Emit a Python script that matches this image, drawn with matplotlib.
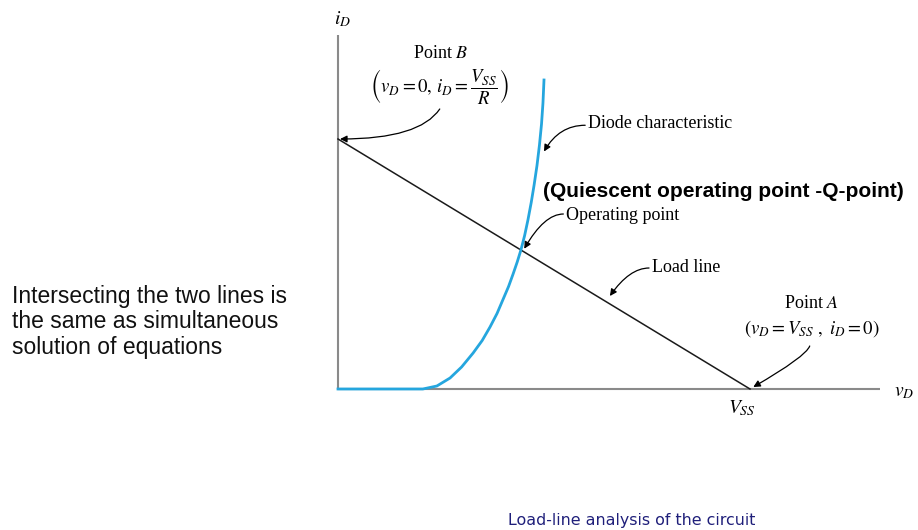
import matplotlib.pyplot as plt
import numpy as np

plt.rcParams['mathtext.fontset'] = 'stix'
plt.rcParams['font.family'] = 'Liberation Serif'

# load line end points (V_SS = 10, V_SS/R = 10)
V_SS = 10.0
I_B = 10.0
load_v = [0.0, V_SS]
load_i = [I_B, 0.0]

# diode characteristic
diode_v = [0.0, 2.06, 2.40, 2.72, 3.00, 3.28, 3.50, 3.69, 3.86, 4.00, 4.14,
           4.25, 4.35, 4.44, 4.53, 4.61, 4.69, 4.76, 4.83, 4.89, 4.94, 4.975, 5.00]
diode_i = [0.0, 0.0, 0.12, 0.44, 0.88, 1.44, 1.94, 2.48, 3.02, 3.56, 4.10,
           4.60, 5.08, 5.56, 6.14, 6.76, 7.46, 8.16, 8.94, 9.76, 10.60, 11.44, 12.36]

q_v, q_i = 4.44, 5.56

fig = plt.figure(figsize=(9.18, 5.30), dpi=100)
ax = fig.add_axes([0, 0, 1, 1])
ax.set_xlim(-8.204, 14.078)
ax.set_ylim(-5.64, 15.56)
ax.axis('off')

# axes
gray = '#8a8a8a'
ax.plot([0, 0], [0, 14.15], color=gray, lw=1.5, solid_capstyle='butt')
ax.plot([0, 13.16], [0, 0], color=gray, lw=1.5, solid_capstyle='butt')

ax.plot(load_v, load_i, color='#1a1a1a', lw=1.1)
ax.plot(diode_v, diode_i, color='#25a6de', lw=2.0, solid_joinstyle='round')

arr = dict(arrowstyle='-|>', color='black', lw=0.9, mutation_scale=10,
           shrinkA=0, shrinkB=0)

ax.text(0.1, 14.8, r'$i_D$', fontsize=14, ha='center', va='center')

ax.text(2.5, 13.4, 'Point $\\mathit{B}$', fontsize=13, ha='center', va='center')
ax.text(2.45, 12.1, r'$\left(v_D = 0,\, i_D = \dfrac{V_{SS}}{R}\right)$',
        fontsize=13.5, ha='center', va='center')
ax.annotate('', xy=(0.05, I_B), xytext=(2.47, 11.2),
            arrowprops=dict(arr, connectionstyle='angle3,angleA=56,angleB=0'))

ax.text(6.08, 10.6, 'Diode characteristic', fontsize=13, ha='left', va='center')
ax.annotate('', xy=(5.0, 9.5), xytext=(6.0, 10.55),
            arrowprops=dict(arr, connectionstyle='angle3,angleA=0,angleB=60'))

ax.text(4.98, 7.9, '(Quiescent operating point -Q-point)', fontsize=15,
        fontweight='bold', family='Liberation Sans', ha='left', va='center')

ax.text(5.54, 6.96, 'Operating point', fontsize=13, ha='left', va='center')
ax.annotate('', xy=(q_v + 0.08, q_i + 0.05), xytext=(5.47, 7.0),
            arrowprops=dict(arr, connectionstyle='angle3,angleA=0,angleB=60'))

ax.text(7.62, 4.84, 'Load line', fontsize=13, ha='left', va='center')
ax.annotate('', xy=(6.6, 3.72), xytext=(7.55, 4.84),
            arrowprops=dict(arr, connectionstyle='angle3,angleA=0,angleB=55'))

ax.text(11.5, 3.4, 'Point $\\mathit{A}$', fontsize=13, ha='center', va='center')
ax.text(11.5, 2.4, r'$(v_D = V_{SS}\ ,\ i_D = 0)$', fontsize=13.5,
        ha='center', va='center')
ax.annotate('', xy=(V_SS + 0.08, 0.08), xytext=(11.45, 1.72),
            arrowprops=dict(arr, connectionstyle='angle3,angleA=70,angleB=30'))

ax.text(V_SS - 0.2, -0.76, r'$V_{SS}$', fontsize=14, ha='center', va='center')
ax.text(13.5, -0.14, r'$v_D$', fontsize=14, ha='left', va='center')

fig.text(12 / 918, 1 - 322 / 530,
         'Intersecting the two lines is\nthe same as simultaneous\nsolution of equations',
         fontsize=16.5, family='Liberation Sans', ha='left', va='center',
         linespacing=1.12, color='#111111')

fig.text(632 / 918, 1 - 520 / 530, 'Load-line analysis of the circuit',
         fontsize=11.4, family='DejaVu Sans', color='#1f1f7a', ha='center',
         va='center')

fig.savefig('out.png', dpi=100)
